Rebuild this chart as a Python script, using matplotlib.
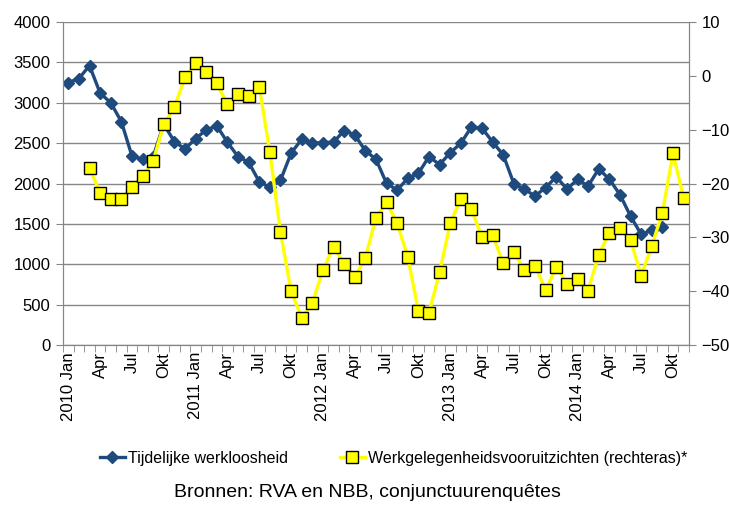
import matplotlib.pyplot as plt
import numpy as np
from matplotlib import font_manager

# pick a narrow font if we have one
names = set(f.name for f in font_manager.fontManager.ttflist)
if "Liberation Sans Narrow" in names:
    plt.rcParams["font.family"] = ["Liberation Sans Narrow", "DejaVu Sans"]
else:
    plt.rcParams["font.family"] = ["Liberation Sans", "DejaVu Sans"]

# monthly data, 2010 Jan .. 2014 Nov
years = [2010, 2011, 2012, 2013, 2014]
months = ["Jan", "Apr", "Jul", "Okt"]

werkloosheid = [
    3250, 3300, 3460, 3120, 3000, 2767, 2341, 2300, 2333, 2735, 2519, 2428,
    2556, 2664, 2714, 2511, 2333, 2263, 2022, 1952, 2039, 2375, 2549, 2499,
    2507, 2511, 2656, 2602, 2407, 2300, 2002, 1919, 2064, 2126, 2333, 2235,
    2380, 2499, 2700, 2685, 2515, 2354, 1998, 1927, 1846, 1950, 2084, 1931,
    2050, 1970, 2180, 2054, 1862, 1596, 1370, 1422, 1460,
]

vooruitzichten = [
    np.nan, np.nan, -17.2, -21.7, -22.9, -22.8, -20.6, -18.6, -15.8, -9.0,
    -5.8, -0.3, 2.4, 0.8, -1.4, -5.3, -3.4, -3.7, -2.0, -14.2, -29.0, -40.0,
    -44.9, -42.2, -36.1, -31.7, -34.9, -37.4, -33.8, -26.4, -23.5, -27.4,
    -33.6, -43.7, -44.0, -36.5, -27.4, -22.8, -24.8, -30.0, -29.6, -34.8,
    -32.8, -36.1, -35.3, -39.8, -35.5, -38.6, -37.7, -39.9, -33.2, -29.2,
    -28.3, -30.5, -37.1, -31.6, -25.4, -14.4, -22.7,
]

n = len(vooruitzichten)
x = np.arange(n)

tick_pos = []
tick_lab = []
for i in range(0, n, 3):
    m = months[(i % 12) // 3]
    if m == "Jan":
        tick_lab.append(str(years[i // 12]) + " Jan")
    else:
        tick_lab.append(m)
    tick_pos.append(i)

grey = "#868686"
blue = "#1F4A7D"

fig = plt.figure(figsize=(7.29, 5.05), dpi=100)
ax = fig.add_axes([0.0864, 0.3168, 0.8586, 0.6396])
ax2 = ax.twinx()

l1, = ax.plot(x[:len(werkloosheid)], werkloosheid, color=blue, lw=2.4,
              marker="D", ms=6, label="Tijdelijke werkloosheid")
l2, = ax2.plot(x, vooruitzichten, color="#FFFF00", lw=2.4, marker="s", ms=8.5,
               mfc="#FFFF00", mec="black", mew=1,
               label="Werkgelegenheidsvooruitzichten (rechteras)*")

ax.set_xlim(-0.5, n - 0.5)
ax.set_ylim(0, 4000)
ax.set_yticks(np.arange(0, 4001, 500))
ax2.set_ylim(-50, 10)
ax2.set_yticks(np.arange(-50, 11, 10))

ax.grid(axis="y", color=grey, lw=1)
ax.set_axisbelow(True)

ax.set_xticks(tick_pos)
ax.set_xticklabels(tick_lab, rotation=90, fontsize=12)
ax.set_xticks(np.arange(-0.5, n, 1), minor=True)
ax.tick_params(axis="x", which="major", length=0, pad=5)
ax.tick_params(axis="x", which="minor", length=5, color=grey)
ax.tick_params(axis="y", length=5, color=grey, labelsize=12, pad=4)
ax2.tick_params(axis="y", length=5, color=grey, labelsize=12, pad=4)

for a in (ax, ax2):
    a.spines["top"].set_visible(False)
    for s in ("left", "right", "bottom"):
        a.spines[s].set_color(grey)

fig.legend(handles=[l1, l2], loc="center", bbox_to_anchor=(0.54, 0.093),
           ncol=2, frameon=False, fontsize=11.5, handlelength=1.6,
           handletextpad=0.2, columnspacing=3.2)
fig.text(0.504, 0.025, "Bronnen: RVA en NBB, conjunctuurenquêtes",
         ha="center", va="center", fontsize=14)

fig.savefig("out.png", dpi=100)
